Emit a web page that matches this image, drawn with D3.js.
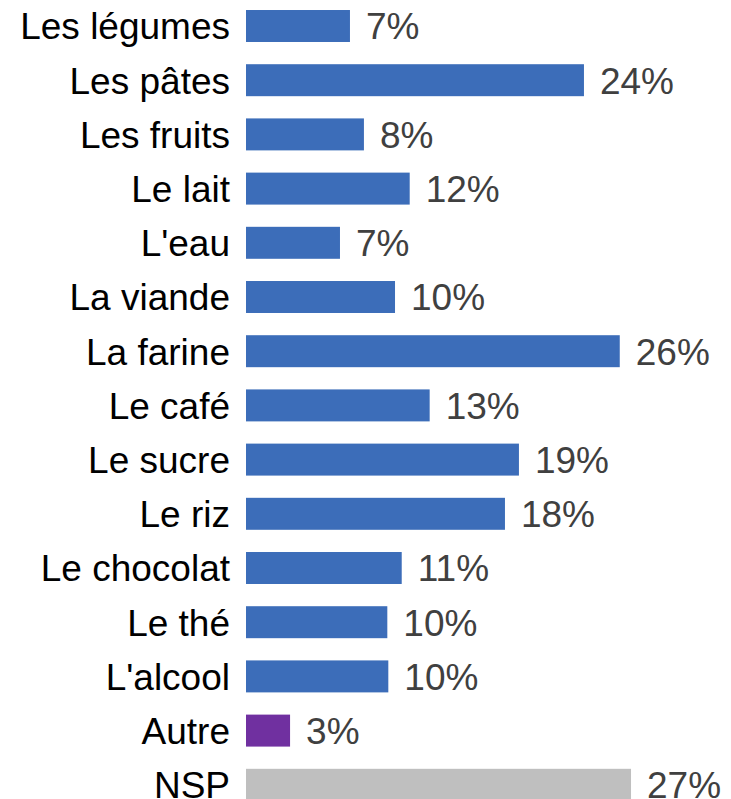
<!DOCTYPE html>
<html>
<head>
<meta charset="utf-8">
<script src="https://cdn.jsdelivr.net/npm/d3@7"></script>
<style>
  html, body { margin: 0; padding: 0; background: #fff; overflow: hidden; }
  svg { display: block; }
</style>
</head>
<body>
<script>
const categories = ["Les légumes", "Les pâtes", "Les fruits", "Le lait", "L'eau", "La viande", "La farine", "Le café", "Le sucre", "Le riz", "Le chocolat", "Le thé", "L'alcool", "Autre", "NSP"];
const values = [7.29, 23.70, 8.27, 11.48, 6.59, 10.45, 26.21, 12.88, 19.14, 18.16, 10.92, 9.91, 9.98, 3.09, 27.0];
const valueLabels = ["7%", "24%", "8%", "12%", "7%", "10%", "26%", "13%", "19%", "18%", "11%", "10%", "10%", "3%", "27%"];

const W = 731, H = 799;
const BLUE = "#3C6DB9", PURPLE = "#7030A0", GRAY = "#BFBFBF";
const colorFor = c => c === "Autre" ? PURPLE : (c === "NSP" ? GRAY : BLUE);

const svg = d3.select("body").append("svg").attr("width", W).attr("height", H);

const x = d3.scaleLinear().domain([0, 100]).range([246, 246 + 1426]);
const y = d3.scaleBand().domain(categories).range([-1.1, 811.9]).paddingInner(0.41).paddingOuter(0.205);

const data = categories.map((c, i) => ({ c, v: values[i], lab: valueLabels[i] }));

svg.append("g").selectAll("rect").data(data).join("rect")
  .attr("x", x(0))
  .attr("y", d => y(d.c))
  .attr("width", d => x(d.v) - x(0))
  .attr("height", y.bandwidth())
  .attr("fill", d => colorFor(d.c));

const font = "'Liberation Sans', Arial, Helvetica, sans-serif";

svg.append("g").selectAll("text").data(data).join("text")
  .attr("x", x(0) - 16)
  .attr("y", d => y(d.c) + y.bandwidth() / 2)
  .attr("dy", "0.36em")
  .attr("text-anchor", "end")
  .attr("font-family", font)
  .attr("font-size", 37)
  .attr("fill", "#000")
  .text(d => d.c);

svg.append("g").selectAll("text").data(data).join("text")
  .attr("x", d => x(d.v) + 16)
  .attr("y", d => y(d.c) + y.bandwidth() / 2)
  .attr("dy", "0.36em")
  .attr("text-anchor", "start")
  .attr("font-family", font)
  .attr("font-size", 37)
  .attr("fill", "#404040")
  .text(d => d.lab);
</script>
</body>
</html>
